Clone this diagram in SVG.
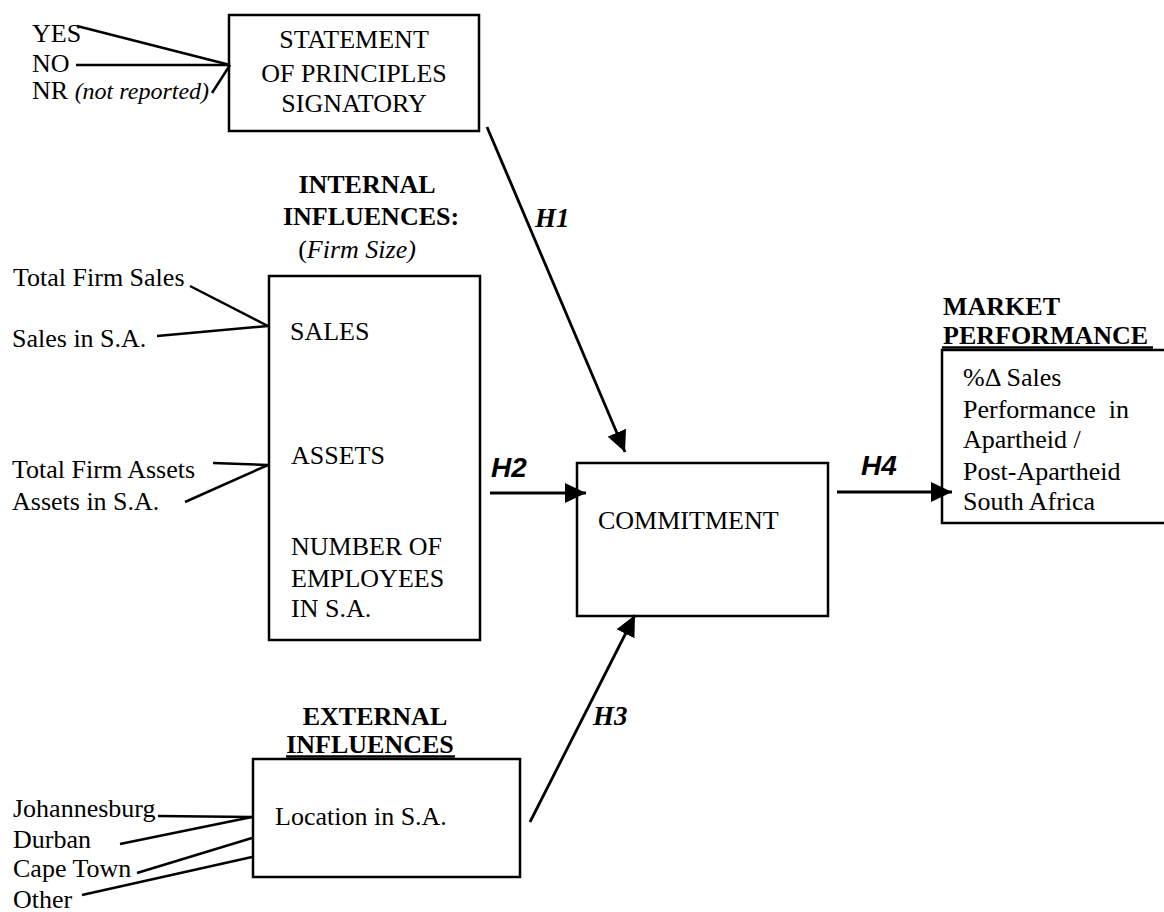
<svg xmlns="http://www.w3.org/2000/svg" width="1164" height="912" viewBox="0 0 1164 912">
<style>
.t{font-family:"Liberation Serif","Times New Roman",serif;font-size:26px;fill:#000}
.b{font-weight:bold}
.i{font-style:italic}
.h{font-family:"Liberation Sans",Arial,sans-serif;font-size:28px;font-weight:bold;font-style:italic;fill:#000}
.hs{font-family:"Liberation Serif","Times New Roman",serif;font-size:27px;font-weight:bold;font-style:italic;fill:#000}
.box{fill:#fff;stroke:#000;stroke-width:2.5}
.ln{stroke:#000;stroke-width:2.5;fill:none}
.arr{stroke:#000;stroke-width:2.8;fill:none;marker-end:url(#ah)}
</style>
<defs>
<marker id="ah" markerUnits="userSpaceOnUse" markerWidth="22" markerHeight="20" refX="21" refY="10" orient="auto">
<path d="M0,0 L21,10 L0,20 z" fill="#000"/>
</marker>
</defs>
<rect width="1164" height="912" fill="#fff"/>

<g id="statement">
<rect class="box" x="229" y="15" width="250" height="116"/>
<text class="t" x="354" y="48" text-anchor="middle">STATEMENT</text>
<text class="t" x="354" y="82" text-anchor="middle">OF PRINCIPLES</text>
<text class="t" x="354" y="112" text-anchor="middle">SIGNATORY</text>
</g>

<g id="statement-options">
<text class="t" x="32" y="42">YES</text>
<text class="t" x="32" y="72">NO</text>
<text class="t" x="32" y="99">NR <tspan class="i" font-size="24">(not reported)</tspan></text>
</g>

<g id="internal">
<text class="t b" x="367" y="193" text-anchor="middle">INTERNAL</text>
<text class="t b" x="371" y="225" text-anchor="middle">INFLUENCES:</text>
<text class="t" x="357" y="258" text-anchor="middle">(<tspan class="i">Firm Size)</tspan></text>
<rect class="box" x="269" y="276" width="211" height="364"/>
<text class="t" x="290" y="340">SALES</text>
<text class="t" x="291" y="464">ASSETS</text>
<text class="t" x="291" y="555">NUMBER OF</text>
<text class="t" x="291" y="587">EMPLOYEES</text>
<text class="t" x="291" y="617">IN S.A.</text>
</g>

<g id="internal-measures">
<text class="t" x="13" y="286">Total Firm Sales</text>
<text class="t" x="12" y="347">Sales in S.A.</text>
<text class="t" x="12" y="478">Total Firm Assets</text>
<text class="t" x="12" y="510">Assets in S.A.</text>
</g>

<g id="commitment">
<rect class="box" x="577" y="463" width="251" height="153"/>
<text class="t" x="598" y="529">COMMITMENT</text>
</g>

<g id="market">
<text class="t b" x="943" y="315">MARKET</text>
<text class="t b" x="943" y="344">PERFORMANCE</text>
<line class="ln" x1="942" y1="347.5" x2="1153" y2="347.5" stroke-width="2"/>
<rect class="box" x="942" y="350" width="240" height="173"/>
<text class="t" x="963" y="386">%Δ Sales</text>
<text class="t" x="963" y="418" xml:space="preserve">Performance  in</text>
<text class="t" x="963" y="448">Apartheid /</text>
<text class="t" x="963" y="480">Post-Apartheid</text>
<text class="t" x="963" y="510">South Africa</text>
</g>

<g id="external">
<text class="t b" x="375" y="725" text-anchor="middle">EXTERNAL</text>
<text class="t b" x="370" y="753" text-anchor="middle">INFLUENCES</text>
<line class="ln" x1="286" y1="756.5" x2="455" y2="756.5" stroke-width="2"/>
<rect class="box" x="253" y="759" width="267" height="118"/>
<text class="t" x="275" y="825">Location in S.A.</text>
</g>

<g id="locations">
<text class="t" x="13" y="817">Johannesburg</text>
<text class="t" x="13" y="848">Durban</text>
<text class="t" x="13" y="877">Cape Town</text>
<text class="t" x="13" y="908">Other</text>
</g>

<g id="connectors">
<line class="ln" x1="77" y1="26" x2="230" y2="65"/>
<line class="ln" x1="76" y1="65" x2="230" y2="65"/>
<line class="ln" x1="212" y1="93" x2="230" y2="65"/>

<line class="ln" x1="190" y1="286" x2="268" y2="326"/>
<line class="ln" x1="157" y1="336" x2="268" y2="326"/>
<line class="ln" x1="213" y1="463" x2="268" y2="465"/>
<line class="ln" x1="185" y1="502" x2="268" y2="465"/>

<line class="ln" x1="158" y1="816" x2="252" y2="817"/>
<line class="ln" x1="120" y1="844" x2="252" y2="817"/>
<line class="ln" x1="137" y1="873" x2="252" y2="838"/>
<line class="ln" x1="82" y1="895" x2="252" y2="857"/>

<line class="arr" x1="487" y1="127" x2="625" y2="452"/>
<text class="hs" x="535" y="227">H1</text>
<line class="arr" x1="490" y1="493" x2="586" y2="493"/>
<text class="h" x="491" y="477">H2</text>
<line class="arr" x1="530" y1="822" x2="635" y2="615"/>
<text class="hs" x="593" y="725">H3</text>
<line class="arr" x1="837" y1="492" x2="952" y2="492"/>
<text class="h" x="861" y="475">H4</text>
</g>
</svg>
